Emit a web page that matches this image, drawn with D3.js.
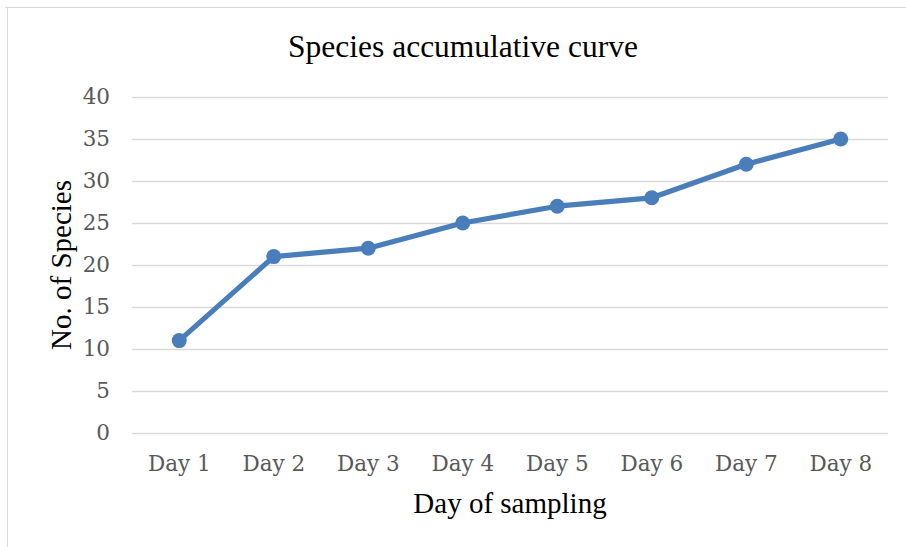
<!DOCTYPE html>
<html>
<head>
<meta charset="utf-8">
<script src="https://cdn.jsdelivr.net/npm/d3@7"></script>
<style>
  body { margin: 0; background: #fff; }
  svg { display: block; }
</style>
</head>
<body>
<svg class="chart" width="906" height="547"></svg>
<script>
// Static data
const days = ['Day 1', 'Day 2', 'Day 3', 'Day 4', 'Day 5', 'Day 6', 'Day 7', 'Day 8'];
const species = [11, 21, 22, 25, 27, 28, 32, 35];
const yTicks = [0, 5, 10, 15, 20, 25, 30, 35, 40];

const margin = { top: 97, right: 18, bottom: 114, left: 132 };
const width = 906, height = 547;
const w = width - margin.left - margin.right;
const h = height - margin.top - margin.bottom;

const svg = d3.select('.chart');

// chart border (only top & left visible in the crop)
svg.append('path')
   .attr('d', `M5,7.5 H906 M7.5,7.5 V547`)
   .attr('stroke', '#d9d9d9')
   .attr('fill', 'none');

const x = d3.scaleBand().domain(days).range([0, w]);
const y = d3.scaleLinear().domain([0, 40]).range([h, 0]);

const g = svg.append('g').attr('transform', `translate(${margin.left}, ${margin.top})`);

// gridlines
g.selectAll('.grid')
 .data(yTicks)
 .enter().append('line')
 .attr('x1', 0).attr('x2', w)
 .attr('y1', d => y(d) + 0.5).attr('y2', d => y(d) + 0.5)
 .attr('stroke', '#d9d9d9')
 .attr('stroke-width', 1.3);

const tickFont = '"DejaVu Serif", serif';

const yAxis = d3.axisLeft(y).tickValues(yTicks).tickSize(0).tickPadding(22);
g.append('g').call(yAxis)
 .call(s => s.select('.domain').remove())
 .selectAll('text')
 .attr('font-family', tickFont)
 .attr('font-size', 21.5)
 .attr('fill', '#595959');

const xAxis = d3.axisBottom(x).tickSize(0).tickPadding(23);
g.append('g').attr('transform', `translate(0, ${h})`).call(xAxis)
 .call(s => s.select('.domain').remove())
 .selectAll('text')
 .attr('font-family', tickFont)
 .attr('font-size', 21.5)
 .attr('fill', '#595959');

const cx = d => x(d) + x.bandwidth() / 2;

const line = d3.line()
  .x((d, i) => cx(days[i]))
  .y(d => y(d));

g.append('path')
 .datum(species)
 .attr('d', line)
 .attr('fill', 'none')
 .attr('stroke', '#4a7ebb')
 .attr('stroke-width', 5.2)
 .attr('stroke-linejoin', 'round');

g.selectAll('.pt')
 .data(species)
 .enter().append('circle')
 .attr('cx', (d, i) => cx(days[i]))
 .attr('cy', d => y(d))
 .attr('r', 7.5)
 .attr('fill', '#4a7ebb');

// titles
const serif = '"Liberation Serif", "Times New Roman", serif';
svg.append('text')
   .attr('x', 463).attr('y', 57)
   .attr('text-anchor', 'middle')
   .attr('font-family', serif)
   .attr('font-size', 31.5)
   .attr('fill', '#000')
   .text('Species accumulative curve');

svg.append('text')
   .attr('x', 510).attr('y', 513)
   .attr('text-anchor', 'middle')
   .attr('font-family', serif)
   .attr('font-size', 29)
   .attr('fill', '#000')
   .text('Day of sampling');

svg.append('text')
   .attr('transform', `translate(71, ${margin.top + h / 2}) rotate(-90)`)
   .attr('text-anchor', 'middle')
   .attr('font-family', serif)
   .attr('font-size', 29)
   .attr('fill', '#000')
   .text('No. of Species');
</script>
</body>
</html>
